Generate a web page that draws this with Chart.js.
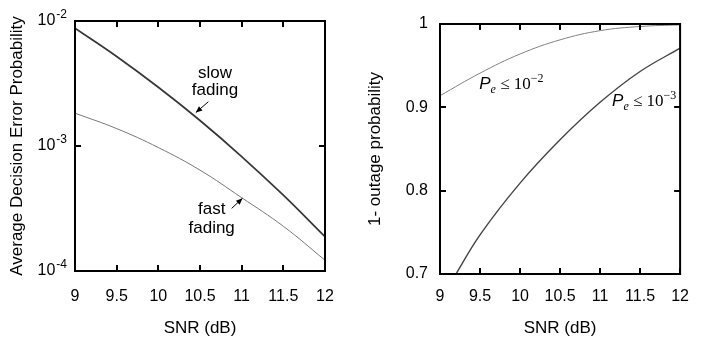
<!DOCTYPE html>
<html>
<head>
<meta charset="utf-8">
<script src="https://cdn.jsdelivr.net/npm/chart.js@4.4.1/dist/chart.umd.min.js"></script>
<style>
  html, body { margin: 0; padding: 0; background: #fff; }
  .wrap { position: absolute; top: 0; width: 351px; height: 343px; }
  #left { left: 0; }
  #right { left: 351px; }
</style>
</head>
<body>
<div class="wrap" id="left"><canvas id="leftGraph" width="351" height="343"></canvas></div>
<div class="wrap" id="right"><canvas id="rightGraph" width="351" height="343"></canvas></div>
<script>
// left panel: average decision error probability vs SNR
const snr = [9, 9.5, 10, 10.5, 11, 11.5, 12]
const slowFading = [8.75e-3, 5.2e-3, 2.95e-3, 1.6e-3, 8.24e-4, 4.04e-4, 1.88e-4]
const fastFading = [1.83e-3, 1.378e-3, 9.72e-4, 6.41e-4, 3.86e-4, 2.28e-4, 1.22e-4]

// right panel: 1 - outage probability vs SNR
const snrUpper = [9, 9.5, 10, 10.5, 11, 11.5, 12]
const successPe2 = [0.914, 0.941, 0.964, 0.981, 0.992, 0.997, 0.999]
const snrLower = [9.2, 9.5, 10, 10.5, 11, 11.5, 12]
const successPe3 = [0.7, 0.747, 0.809, 0.861, 0.906, 0.943, 0.971]

// ticks
const xTicks = [9, 9.5, 10, 10.5, 11, 11.5, 12]
const leftYTicks = [1e-4, 1e-3, 1e-2]
const leftYExponents = ['-4', '-3', '-2']
const rightYTicks = [0.7, 0.8, 0.9, 1]
const rightYLabels = ['0.7', '0.8', '0.9', '1']

const SANS = '"Liberation Sans", Arial, Helvetica, sans-serif'
const SERIF = '"Liberation Serif", "Times New Roman", serif'
Chart.defaults.font.family = SANS
Chart.defaults.color = '#000'

const toPoints = (xs, ys) => xs.map((x, i) => ({ x: x, y: ys[i] }))

// gnuplot-like frame with inward ticks on all four sides
const framePlugin = {
  id: 'frame',
  afterDatasetsDraw(chart) {
    const { ctx, chartArea: a, scales } = chart
    ctx.save()
    ctx.strokeStyle = '#000'
    ctx.lineWidth = 2
    ctx.beginPath()
    scales.x.ticks.forEach((t) => {
      const px = Math.round(scales.x.getPixelForValue(t.value))
      ctx.moveTo(px, a.bottom)
      ctx.lineTo(px, a.bottom - 6)
      ctx.moveTo(px, a.top)
      ctx.lineTo(px, a.top + 6)
    })
    scales.y.ticks.forEach((t) => {
      const py = Math.round(scales.y.getPixelForValue(t.value))
      ctx.moveTo(a.left, py)
      ctx.lineTo(a.left + 6, py)
      ctx.moveTo(a.right, py)
      ctx.lineTo(a.right - 6, py)
    })
    ctx.stroke()
    ctx.strokeRect(a.left, a.top, a.right - a.left, a.bottom - a.top)
    ctx.restore()
  },
}

const drawArrow = (ctx, x1, y1, x2, y2) => {
  const ang = Math.atan2(y2 - y1, x2 - x1)
  ctx.beginPath()
  ctx.moveTo(x1, y1)
  ctx.lineTo(x2, y2)
  ctx.lineWidth = 1
  ctx.stroke()
  ctx.beginPath()
  ctx.moveTo(x2, y2)
  ctx.lineTo(x2 - 7 * Math.cos(ang - 0.4), y2 - 7 * Math.sin(ang - 0.4))
  ctx.lineTo(x2 - 7 * Math.cos(ang + 0.4), y2 - 7 * Math.sin(ang + 0.4))
  ctx.closePath()
  ctx.fill()
}

// "P_e <= 10^exp" label, x/y is the start of the baseline
const drawBound = (ctx, x, y, exp) => {
  ctx.textAlign = 'left'
  ctx.textBaseline = 'alphabetic'
  ctx.font = 'italic 17px ' + SANS
  ctx.fillText('P', x, y)
  x += ctx.measureText('P').width
  ctx.font = 'italic 12px ' + SERIF
  ctx.fillText('e', x, y + 4)
  x += ctx.measureText('e').width
  ctx.font = '17px ' + SERIF
  ctx.fillText(' \u2264 10', x, y)
  x += ctx.measureText(' \u2264 10').width
  ctx.font = '12px ' + SERIF
  ctx.fillText('\u2212' + exp, x, y - 7)
}

const makeNotes = (labels, arrows, bounds) => ({
  id: 'notes',
  afterDatasetsDraw(chart) {
    const { ctx, scales: { x, y } } = chart
    ctx.save()
    ctx.fillStyle = '#000'
    ctx.strokeStyle = '#000'
    labels.forEach((n) => {
      ctx.font = '17px ' + SANS
      ctx.textAlign = 'center'
      ctx.textBaseline = 'middle'
      ctx.fillText(n.text, x.getPixelForValue(n.x), y.getPixelForValue(n.y))
    })
    arrows.forEach((a) => {
      drawArrow(ctx,
        x.getPixelForValue(a.from[0]), y.getPixelForValue(a.from[1]),
        x.getPixelForValue(a.to[0]), y.getPixelForValue(a.to[1]))
    })
    bounds.forEach((b) => {
      drawBound(ctx, x.getPixelForValue(b.x), y.getPixelForValue(b.y), b.exp)
    })
    ctx.restore()
  },
})

// log axis labels written as 10 with a raised exponent
const logLabels = {
  id: 'logLabels',
  afterDraw(chart) {
    const { ctx, chartArea: a, scales: { y } } = chart
    ctx.save()
    ctx.fillStyle = '#000'
    ctx.textAlign = 'right'
    ctx.textBaseline = 'middle'
    leftYTicks.forEach((v, i) => {
      const py = y.getPixelForValue(v)
      let right = a.left - 8
      ctx.font = '12px ' + SANS
      ctx.fillText(leftYExponents[i], right, py - 6)
      right -= ctx.measureText(leftYExponents[i]).width + 1
      ctx.font = '16px ' + SANS
      ctx.fillText('10', right, py)
    })
    ctx.restore()
  },
}

const xScale = (height, padding, titlePad) => ({
  type: 'linear',
  min: 9,
  max: 12,
  grid: { display: false, drawTicks: false },
  border: { display: false },
  afterBuildTicks: (s) => {
    s.ticks = xTicks.map((v) => ({ value: v }))
  },
  afterFit: (s) => {
    s.height = height
  },
  ticks: {
    padding: padding,
    font: { size: 16 },
    maxRotation: 0,
    callback: (v) => String(v),
  },
  title: {
    display: true,
    text: 'SNR (dB)',
    font: { size: 17 },
    padding: { top: 0, bottom: titlePad },
  },
})

const lineStyle = (color, width) => ({
  showLine: true,
  borderColor: color,
  backgroundColor: color,
  borderWidth: width,
  pointRadius: 0,
  tension: 0.4,
  fill: false,
})

new Chart(document.getElementById('leftGraph'), {
  type: 'scatter',
  data: {
    datasets: [
      { label: 'slow fading', data: toPoints(snr, slowFading), ...lineStyle('#363636', 1.7) },
      { label: 'fast fading', data: toPoints(snr, fastFading), ...lineStyle('#777777', 1) },
    ],
  },
  options: {
    responsive: false,
    animation: false,
    devicePixelRatio: 1,
    layout: { padding: { top: 21, right: 26, left: 0, bottom: 0 } },
    plugins: { legend: { display: false }, tooltip: { enabled: false } },
    scales: {
      x: xScale(72, 16, 4),
      y: {
        type: 'logarithmic',
        min: 1e-4,
        max: 1e-2,
        grid: { display: false, drawTicks: false },
        border: { display: false },
        afterBuildTicks: (s) => {
          s.ticks = leftYTicks.map((v) => ({ value: v }))
        },
        afterFit: (s) => {
          s.width = 75
        },
        ticks: { display: false },
        title: {
          display: true,
          text: 'Average Decision Error Probability',
          font: { size: 17 },
          padding: { top: 7, bottom: 0 },
        },
      },
    },
  },
  plugins: [
    framePlugin,
    logLabels,
    makeNotes(
      [
        { text: 'slow', x: 10.68, y: 3.84e-3 },
        { text: 'fading', x: 10.68, y: 2.81e-3 },
        { text: 'fast', x: 10.64, y: 3.13e-4 },
        { text: 'fading', x: 10.64, y: 2.21e-4 },
      ],
      [
        { from: [10.6, 2.26e-3], to: [10.45, 1.85e-3] },
        { from: [10.88, 3.17e-4], to: [11.01, 3.82e-4] },
      ],
      []
    ),
  ],
})

new Chart(document.getElementById('rightGraph'), {
  type: 'scatter',
  data: {
    datasets: [
      { label: 'Pe <= 1e-2', data: toPoints(snrUpper, successPe2), ...lineStyle('#808080', 1) },
      { label: 'Pe <= 1e-3', data: toPoints(snrLower, successPe3), ...lineStyle('#444444', 1.4) },
    ],
  },
  options: {
    responsive: false,
    animation: false,
    devicePixelRatio: 1,
    layout: { padding: { top: 24, right: 12, left: 0, bottom: 0 } },
    plugins: { legend: { display: false }, tooltip: { enabled: false } },
    scales: {
      x: xScale(69, 13, 4),
      y: {
        type: 'linear',
        min: 0.7,
        max: 1,
        grid: { display: false, drawTicks: false },
        border: { display: false },
        afterBuildTicks: (s) => {
          s.ticks = rightYTicks.map((v) => ({ value: v }))
        },
        afterFit: (s) => {
          s.width = 89
        },
        ticks: {
          padding: 12,
          font: { size: 16 },
          callback: (v, i) => rightYLabels[i],
        },
        title: {
          display: true,
          text: '1- outage probability',
          font: { size: 17 },
          padding: { top: 14, bottom: 0 },
        },
      },
    },
  },
  plugins: [
    framePlugin,
    makeNotes(
      [],
      [],
      [
        { x: 9.49, y: 0.922, exp: '2' },
        { x: 11.15, y: 0.9016, exp: '3' },
      ]
    ),
  ],
})
</script>
</body>
</html>
